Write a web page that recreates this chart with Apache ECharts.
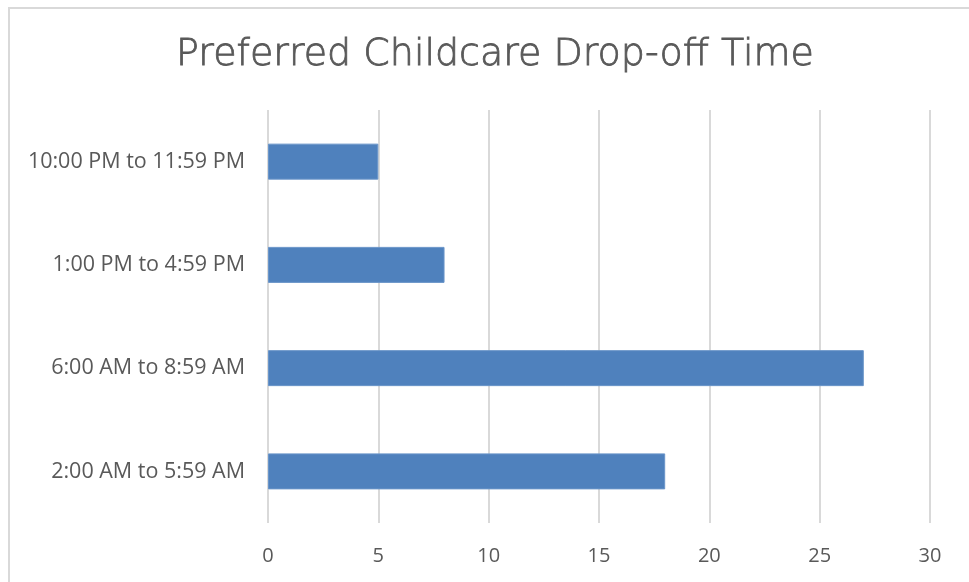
<!DOCTYPE html>
<html>
<head>
<meta charset="utf-8">
<script src="https://cdn.jsdelivr.net/npm/echarts@6/dist/echarts.min.js"></script>
<style>
    html, body { margin: 0; padding: 0; background: #fff; }
    #chart { width: 969px; height: 582px; }
</style>
</head>
<body>
<div id="chart"></div>
<script>
// 类目（从下到上）
var timeSlots = ['2:00 AM to 5:59 AM', '6:00 AM to 8:59 AM', '1:00 PM to 4:59 PM', '10:00 PM to 11:59 PM'];
// 每个时段的人数
var slotCounts = [18, 27, 8, 5];
// 横轴刻度
var xTicks = [0, 5, 10, 15, 20, 25, 30];

var labelColor = '#595959';
var gridColor = '#d9d9d9';

var option = {
    animation: false,
    backgroundColor: '#fff',
    title: {
        text: 'Preferred Childcare Drop-off Time',
        left: 490,
        top: 31,
        textAlign: 'center',
        textStyle: {
            fontFamily: 'DejaVu Sans',
            fontWeight: 200,
            fontSize: 38,
            color: '#595959',
            textBorderColor: '#595959',
            textBorderWidth: 0.8
        }
    },
    graphic: [{
        type: 'rect',
        shape: { x: 9, y: 8, width: 1000, height: 620 },
        style: { fill: 'none', stroke: gridColor, lineWidth: 2 },
        silent: true
    }],
    grid: {
        left: 268,
        right: 39,
        top: 110,
        bottom: 59
    },
    xAxis: {
        type: 'value',
        min: xTicks[0],
        max: xTicks[xTicks.length - 1],
        interval: 5,
        axisLine: { show: false },
        axisTick: { show: false },
        splitLine: { lineStyle: { color: gridColor, width: 2 } },
        axisLabel: {
            color: labelColor,
            fontFamily: 'Open Sans',
            fontSize: 20,
            margin: 23
        }
    },
    yAxis: {
        type: 'category',
        data: timeSlots,
        axisLine: { show: false },
        axisTick: { show: false },
        axisLabel: {
            color: labelColor,
            fontFamily: 'Open Sans',
            fontSize: 21.5,
            margin: 23
        }
    },
    series: [{
        type: 'bar',
        data: slotCounts,
        barWidth: 36,
        itemStyle: {
            color: '#4f81bd',
            borderColor: '#6a95c9',
            borderWidth: 1
        }
    }]
};

var chart = echarts.init(document.getElementById('chart'));
chart.setOption(option);
</script>
</body>
</html>
